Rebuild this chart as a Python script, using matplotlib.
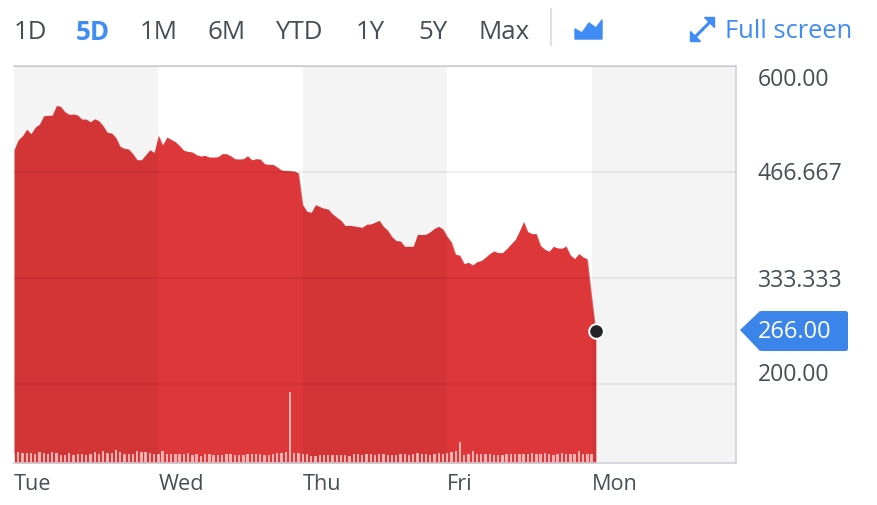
import numpy as np
import matplotlib
matplotlib.use("Agg")
import matplotlib.pyplot as plt
from matplotlib.patches import Polygon, FancyBboxPatch
from matplotlib.transforms import ScaledTranslation

plt.rcParams['font.family'] = ['Open Sans', 'DejaVu Sans']

prices = [494.3,506.9,511.9,520.3,514.5,522.8,526.6,537.1,537.5,537.9,550.1,548.8,542.1,538.8,539.2,537.9,532.9,532.9,529.5,533.3,
 530.8,524.5,516.1,515.3,509.8,498.5,496.0,495.2,489.3,481.7,481.7,488.0,494.3,491.0,512.8,500.6,510.3,507.3,504.4,499.4,
 493.5,492.2,491.4,488.0,486.4,487.2,485.1,485.1,485.5,489.3,489.3,486.8,483.0,482.6,483.0,486.8,481.7,483.0,482.6,476.7,
 475.9,475.9,472.5,468.7,468.3,467.9,467.5,465.0,
 425.2,416.8,415.6,425.2,422.7,420.6,419.7,413.5,409.3,405.5,398.8,399.2,398.4,397.5,396.7,400.5,400.9,403.0,405.5,397.9,
 392.9,384.9,379.9,379.5,372.8,372.8,372.8,387.9,387.5,387.9,391.2,395.4,397.9,394.6,385.4,378.2,362.7,361.5,351.0,352.7,
 349.3,353.5,354.8,359.0,363.6,366.9,364.8,364.8,369.8,375.7,381.2,392.1,404.2,391.2,388.7,388.7,373.6,369.0,366.5,372.8,
 370.7,370.3,373.2,361.9,357.3,363.6,359.4,356.8,310.0,266.0]
volumes = [8,10,9,9,9,8,10,9,8,10,9,7,7,9,7,8,8,7,8,10,8,11,9,9,12,10,8,8,8,11,10,10,9,8,
 8,11,8,8,8,8,8,9,7,8,6,8,8,7,7,7,8,8,7,7,7,8,8,8,8,7,7,8,9,9,10,70,9,9,8,8,6,6,7,
 7,7,7,7,7,7,6,8,8,7,8,8,7,8,8,7,7,7,8,8,7,8,9,8,8,7,8,9,8,9,10,11,20,7,8,11,8,8,8,8,7,7,7,8,8,8,8,8,8,9,8,8,9,8,7,8,9,8,8,8,11,8,8,8,0]
yticks = [200.0, 333.333, 466.667, 600.0]
ytick_labels = ['200.00', '333.333', '466.667', '600.00']
ytick_shift = [12, 0, 1, -11]
days = ['Tue', 'Wed', 'Thu', 'Fri', 'Mon']
ranges = ['1D', '5D', '1M', '6M', 'YTD', '1Y', '5Y', 'Max']
range_x = [14, 76, 140, 208, 275, 356, 418, 479]
last_price = 266.00
samples_per_day = 34

W, H = 878, 506
fig = plt.figure(figsize=(W/100, H/100), dpi=100, facecolor='white')
L, R, T, B = 14, 736, 66.7, 464
rect = [L/W, 1-B/H, (R-L)/W, (B-T)/H]
ax = fig.add_axes(rect)
x = np.arange(len(prices)) / samples_per_day

GREY = '#464e56'
BLUE = '#3f8cf5'
ax.fill_between(x, 100, prices, color='#dd3739', lw=0, zorder=1)
ax.plot(x, prices, color='white', lw=0.8, alpha=0.2, zorder=1.2)
for d in (0, 2, 4):
    ax.axvspan(d, d+1, color='black', alpha=0.043, lw=0, zorder=2)
ax.set_xlim(0, 5)
ax.set_ylim(100, 600)
ax.set_yticks(yticks)
ax.set_yticklabels(ytick_labels)
ax.yaxis.tick_right()
ax.grid(axis='y', color='black', alpha=0.06, lw=1.5, zorder=3)
ax.set_axisbelow(False)
ax.set_xticks(range(5))
ax.set_xticklabels(days, ha='left')
ax.tick_params(length=0)
ax.tick_params(axis='x', labelsize=15.6, labelcolor=GREY, pad=7)
ax.tick_params(axis='y', labelsize=16.6, labelcolor=GREY, pad=15.8)
for t in ax.get_xticklabels() + ax.get_yticklabels():
    t.set_fontweight('medium')
for t, s in zip(ax.get_yticklabels(), ytick_shift):
    t.set_transform(t.get_transform() + ScaledTranslation(0, (s+1)/100, fig.dpi_scale_trans))
ax.spines['left'].set_visible(False)
for name in ('top', 'right', 'bottom'):
    ax.spines[name].set_color('#d0d2da')
    ax.spines[name].set_linewidth(1.2)

vax = fig.add_axes(rect, sharex=ax)
vax.patch.set_alpha(0)
vax.set_ylim(-1.5, B-T-1.5)
vax.bar(x, volumes, width=0.55/samples_per_day, color='white', alpha=0.62, lw=0, align='center')
vax.axis('off')

dax = fig.add_axes(rect, sharex=ax, sharey=ax)
dax.patch.set_alpha(0)
dax.axis('off')
dax.plot(x[-1], last_price, 'o', ms=10.5, mfc='#222426', mec='white', mew=1.4, clip_on=False)

# chrome, in pixel coordinates
c = fig.add_axes([0, 0, 1, 1], zorder=5)
c.set_xlim(0, W); c.set_ylim(H, 0); c.axis('off'); c.patch.set_alpha(0)
for lab, px in zip(ranges, range_x):
    c.text(px, 32, lab, fontsize=18.6, color=BLUE if lab == '5D' else GREY,
           fontweight='bold' if lab == '5D' else 'medium', ha='left', va='center')
c.plot([551, 551], [10, 46], color='#dfe1e6', lw=1.5)
c.add_patch(Polygon([(575, 30), (582, 34), (589, 24), (596, 29), (602, 21), (602, 40), (575, 40)],
                    closed=True, fc=BLUE, ec=BLUE, lw=1, joinstyle='round'))
# expand icon
c.plot([702, 712], [31, 21], color=BLUE, lw=2.2, solid_capstyle='butt')
c.plot([694, 703], [39, 30], color=BLUE, lw=2.2, solid_capstyle='butt')
c.add_patch(Polygon([(704, 18), (714, 18), (714, 28)], closed=True, fc=BLUE, ec=BLUE, lw=1))
c.add_patch(Polygon([(690, 32), (690, 42), (700, 42)], closed=True, fc=BLUE, ec=BLUE, lw=1))
c.text(725, 31.5, 'Full screen', fontsize=18.4, color=BLUE, fontweight='medium', ha='left', va='center')
# price tag
c.add_patch(FancyBboxPatch((759, 312), 89, 40, boxstyle='round,pad=0,rounding_size=2.5',
                           fc='#3a84ea', ec='none', zorder=2))
c.add_patch(Polygon([(760, 312), (740, 331), (760, 352)], closed=True, fc='#3a84ea', ec='none',
                    joinstyle='round', zorder=2))
c.text(758, 332, f'{last_price:.2f}', fontsize=17, color='white', fontweight='medium', ha='left', va='center', zorder=3)

fig.savefig('out.png', dpi=100)
